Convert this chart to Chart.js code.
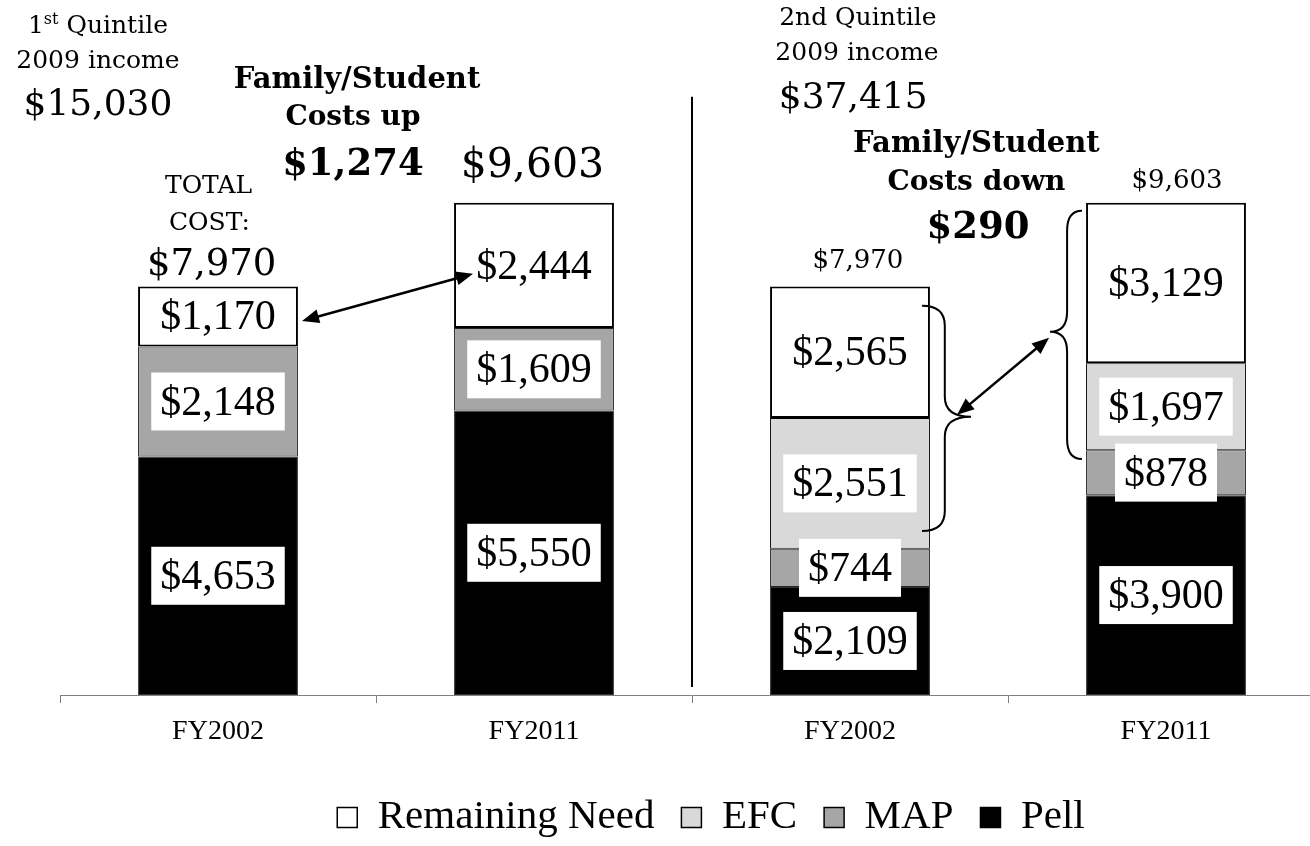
<!DOCTYPE html>
<html><head><meta charset="utf-8">
<style>html,body{margin:0;padding:0;overflow:hidden;background:#fff;} canvas{display:block;}</style>
<script src="https://cdn.jsdelivr.net/npm/chart.js@4.4.1/dist/chart.umd.min.js"></script>
</head><body>
<canvas id="c" width="1330" height="846" style="width:1330px;height:846px"></canvas>
<script>
// ---- data ----
const categories = ['FY2002', 'FY2011', 'FY2002', 'FY2011'];
const pell = [4653, 5550, 2109, 3900];
const mapAid = [2148, 1609, 744, 878];
const efc = [null, null, 2551, 1697];
const remainingNeed = [1170, 2444, 2565, 3129];
const totalCost = [7970, 9603, 7970, 9603];
const seriesNames = ['Pell', 'MAP', 'EFC', 'Remaining Need'];

const fmt = n => '$' + n.toLocaleString('en-US');
const SERIF = '"DejaVu Serif", serif';
const TIMES = '"Liberation Serif", "Times New Roman", serif';

// annotation texts (x in category units, v in value units)
const notes = [
  {t: '1st Quintile', sup: true, x: -0.38, v: 12922, f: '25px ' + SERIF},
  {t: '2009 income', x: -0.38, v: 12239, f: '25px ' + SERIF},
  {t: '$15,030', x: -0.38, v: 11321, f: '36px ' + SERIF},
  {t: 'Family/Student', x: 0.44, v: 11848, f: 'bold 29px ' + SERIF},
  {t: 'Costs up', x: 0.427, v: 11126, f: 'bold 28px ' + SERIF},
  {t: '$1,274', x: 0.427, v: 10150, f: 'bold 37px ' + SERIF},
  {t: 'TOTAL', x: -0.03, v: 9799, f: '25px ' + SERIF},
  {t: 'COST:', x: -0.027, v: 9077, f: '25px ' + SERIF},
  {t: fmt(totalCost[0]), x: -0.02, v: 8198, f: '37px ' + SERIF},
  {t: fmt(totalCost[1]), x: 0.995, v: 10111, f: '41px ' + SERIF},
  {t: '2nd Quintile', x: 2.025, v: 13078, f: '25px ' + SERIF},
  {t: '2009 income', x: 2.022, v: 12395, f: '25px ' + SERIF},
  {t: '$37,415', x: 2.01, v: 11458, f: '36px ' + SERIF},
  {t: 'Family/Student', x: 2.40, v: 10599, f: 'bold 29px ' + SERIF},
  {t: 'Costs down', x: 2.40, v: 9857, f: 'bold 28px ' + SERIF},
  {t: '$290', x: 2.405, v: 8920, f: 'bold 37px ' + SERIF},
  {t: fmt(totalCost[2]), x: 2.025, v: 8335, f: '26px ' + SERIF},
  {t: fmt(totalCost[3]), x: 3.035, v: 9897, f: '26px ' + SERIF}
];
const arrows = [
  {x1: 0.266, v1: 7300, x2: 0.807, v2: 8218},
  {x1: 2.339, v1: 5466, x2: 2.630, v2: 6969}
];
const braces = [
  {x0: 2.228, x1: 2.30, x2: 2.383, vTop: 7593, vTip: 5427, vBot: 3201},
  {x0: 2.734, x1: 2.687, x2: 2.633, vTop: 9448, vTip: 7086, vBot: 4607}
];
const divider = {x: 1.5, vTop: 11673, vBot: 156};

function P(chart, cx, v) {
  const xs = chart.scales.x, ys = chart.scales.y;
  const w = xs.getPixelForValue(1) - xs.getPixelForValue(0);
  return [xs.getPixelForValue(0) + cx * w, ys.getPixelForValue(v)];
}

const labelPlugin = {
  id: 'segLabels',
  afterDatasetsDraw(chart) {
    const ctx = chart.ctx;
    ctx.save();
    chart.data.datasets.forEach((ds, i) => {
      const meta = chart.getDatasetMeta(i);
      meta.data.forEach((el, j) => {
        const v = ds.data[j];
        if (v == null) return;
        const cx = el.x, cy = (el.y + el.base) / 2;
        const txt = fmt(v);
        ctx.font = '42px ' + TIMES;
        const w = ctx.measureText(txt).width;
        if (ds.labelBox) {
          ctx.fillStyle = '#fff';
          ctx.fillRect(cx - w / 2 - 9, cy - 29, w + 18, 58);
        }
        ctx.fillStyle = '#000';
        ctx.textAlign = 'center';
        ctx.textBaseline = 'middle';
        ctx.fillText(txt, cx, cy + 2);
      });
    });
    ctx.restore();
  }
};

function arrowHead(ctx, x, y, ang) {
  const L = 17, W = 7;
  ctx.beginPath();
  ctx.moveTo(x, y);
  ctx.lineTo(x - L * Math.cos(ang) + W * Math.sin(ang), y - L * Math.sin(ang) - W * Math.cos(ang));
  ctx.lineTo(x - L * Math.cos(ang) - W * Math.sin(ang), y - L * Math.sin(ang) + W * Math.cos(ang));
  ctx.closePath();
  ctx.fill();
}

const annoPlugin = {
  id: 'annotations',
  afterDraw(chart) {
    const ctx = chart.ctx;
    ctx.save();
    ctx.fillStyle = '#000';
    ctx.strokeStyle = '#000';
    const [dx, dy1] = P(chart, divider.x, divider.vTop);
    const [, dy2] = P(chart, divider.x, divider.vBot);
    ctx.lineWidth = 2;
    ctx.beginPath(); ctx.moveTo(dx, dy1); ctx.lineTo(dx, dy2); ctx.stroke();
    ctx.textBaseline = 'alphabetic';
    notes.forEach(n => {
      const [x, y] = P(chart, n.x, n.v);
      ctx.font = n.f;
      if (n.sup) {
        const size = parseFloat(n.f);
        const fam = n.f.slice(n.f.indexOf('px') + 3);
        const a = n.t.slice(0, 1), s = n.t.slice(1, 3), b = n.t.slice(3);
        ctx.font = size + 'px ' + fam; const wa = ctx.measureText(a).width, wb = ctx.measureText(b).width;
        ctx.font = Math.round(size * 0.62) + 'px ' + fam; const ws = ctx.measureText(s).width;
        let sx = x - (wa + ws + wb) / 2;
        ctx.textAlign = 'left';
        ctx.font = size + 'px ' + fam; ctx.fillText(a, sx, y);
        ctx.font = Math.round(size * 0.62) + 'px ' + fam; ctx.fillText(s, sx + wa, y - size * 0.36);
        ctx.font = size + 'px ' + fam; ctx.fillText(b, sx + wa + ws, y);
      } else {
        ctx.textAlign = 'center';
        ctx.fillText(n.t, x, y);
      }
    });
    ctx.lineWidth = 2.5;
    arrows.forEach(a => {
      const [x1, y1] = P(chart, a.x1, a.v1), [x2, y2] = P(chart, a.x2, a.v2);
      const ang = Math.atan2(y2 - y1, x2 - x1);
      ctx.beginPath();
      ctx.moveTo(x1 + 12 * Math.cos(ang), y1 + 12 * Math.sin(ang));
      ctx.lineTo(x2 - 12 * Math.cos(ang), y2 - 12 * Math.sin(ang));
      ctx.stroke();
      arrowHead(ctx, x2, y2, ang);
      arrowHead(ctx, x1, y1, ang + Math.PI);
    });
    ctx.lineWidth = 2;
    braces.forEach(b => {
      const [x0, yT] = P(chart, b.x0, b.vTop);
      const [x1] = P(chart, b.x1, 0);
      const [x2, yM] = P(chart, b.x2, b.vTip);
      const [, yB] = P(chart, b.x0, b.vBot);
      const r = 20;
      ctx.beginPath();
      ctx.moveTo(x0, yT);
      ctx.quadraticCurveTo(x1, yT, x1, yT + r);
      ctx.lineTo(x1, yM - r);
      ctx.quadraticCurveTo(x1, yM, x2, yM);
      ctx.quadraticCurveTo(x1, yM, x1, yM + r);
      ctx.lineTo(x1, yB - r);
      ctx.quadraticCurveTo(x1, yB, x0, yB);
      ctx.stroke();
    });
    ctx.restore();
  }
};

// nudge the legend row right so it is centred like the original
const legendShift = {
  id: 'legendShift',
  afterLayout(chart) {
    const lg = chart.legend;
    if (lg) { lg.left += 19; lg.right += 19; }
  }
};

new Chart(document.getElementById('c'), {
  type: 'bar',
  data: {
    labels: categories,
    datasets: [
      {label: seriesNames[0], data: pell, backgroundColor: '#000000', borderColor: '#333333', borderWidth: 1, labelBox: true},
      {label: seriesNames[1], data: mapAid, backgroundColor: '#a6a6a6', borderColor: '#222222', borderWidth: 1, labelBox: true},
      {label: seriesNames[2], data: efc, backgroundColor: '#d9d9d9', borderColor: '#000000', borderWidth: 1, labelBox: true},
      {label: seriesNames[3], data: remainingNeed, backgroundColor: '#ffffff', borderColor: '#000000', borderWidth: 2, labelBox: false}
    ]
  },
  options: {
    responsive: false,
    animation: false,
    layout: {padding: {left: 60, right: 6, top: 80, bottom: 0}},
    datasets: {bar: {categoryPercentage: 0.506, barPercentage: 1, borderSkipped: false}},
    scales: {
      x: {
        stacked: true,
        grid: {display: true, drawOnChartArea: false, drawTicks: true, tickLength: 8, color: '#808080', offset: true},
        border: {display: true, color: '#808080', width: 1},
        ticks: {color: '#000', font: {family: TIMES, size: 28}, padding: 12},
        afterFit: s => { s.height = 75; }
      },
      y: {stacked: true, display: false, min: 0, max: 12000}
    },
    plugins: {
      tooltip: {enabled: false},
      legend: {
        position: 'bottom',
        reverse: true,
        maxHeight: 76,
        labels: {
          color: '#000',
          font: {family: TIMES, size: 41},
          boxWidth: 20, boxHeight: 20, padding: 27,
          generateLabels: chart => Chart.defaults.plugins.legend.labels.generateLabels(chart).map(l => Object.assign(l, {lineWidth: 1.5, strokeStyle: '#000'}))
        }
      }
    }
  },
  plugins: [labelPlugin, annoPlugin, legendShift]
});
</script>
</body></html>
